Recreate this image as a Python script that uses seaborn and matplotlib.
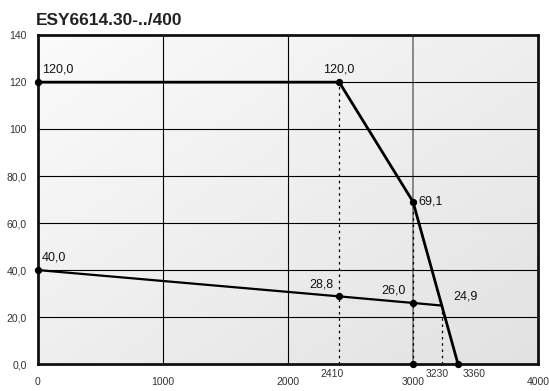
import numpy as np
import pandas as pd
import matplotlib
matplotlib.use("Agg")
import matplotlib.pyplot as plt
import seaborn as sns

# Curve data (speed vs value)
upper_x = [0, 2410, 3000, 3360]
upper_y = [120.0, 120.0, 69.1, 0.0]
lower_x = [0, 2410, 3000, 3230]
lower_y = [40.0, 28.8, 26.0, 24.9]

point_labels = ["120,0", "120,0", "69,1", "40,0", "28,8", "26,0", "24,9"]
label_x = [0, 2410, 3000, 0, 2410, 3000, 3230]
label_y = [120.0, 120.0, 69.1, 40.0, 28.8, 26.0, 24.9]

y_ticks = [0, 20, 40, 60, 80, 100, 120, 140]
y_ticklabels = ["0,0", "20,0", "40,0", "60,0", "80,0", "100", "120", "140"]
x_ticks = [0, 1000, 2000, 3000, 4000]
x_extra = [2410, 3230, 3360]

sns.set_style("white")
plt.rcParams['font.family'] = ['Liberation Sans', 'DejaVu Sans']

fig = plt.figure(figsize=(5.49, 3.91), dpi=100)
ax = fig.add_axes([0.069, 0.069, 0.911, 0.841])
ax.set_xlim(0, 4000)
ax.set_ylim(0, 140)

# light gradient background
grad = np.linspace(0, 1, 256)
gx, gy = np.meshgrid(grad, grad)
ax.imshow(0.5 * gx + 0.5 * (1 - gy), cmap=matplotlib.colors.LinearSegmentedColormap.from_list(
    "bg", ["#fbfbfb", "#e2e2e2"]), extent=[0, 4000, 0, 140], aspect="auto",
    origin="lower", zorder=0)

# grid
for v in [1000, 2000]:
    ax.axvline(v, color="black", lw=0.8, zorder=1)
ax.axvline(3000, color="#777777", lw=1.2, zorder=1)
for h in [20, 40, 60, 80, 100, 120]:
    ax.axhline(h, color="black", lw=0.8, zorder=1)

# dotted drop lines
for xv, yv in [(2410, 120.0), (3000, 69.1), (3230, 24.9)]:
    ax.plot([xv, xv], [0, yv], color="black", lw=0.9, ls=(0, (2, 3)), zorder=2)

df_up = pd.DataFrame({"x": upper_x, "y": upper_y})
df_lo = pd.DataFrame({"x": lower_x, "y": lower_y})
sns.lineplot(data=df_up, x="x", y="y", sort=False, color="black", lw=2, ax=ax, zorder=3)
sns.lineplot(data=df_lo, x="x", y="y", sort=False, color="black", lw=1.6, ax=ax, zorder=3)

pts_x = upper_x + lower_x[1:3] + [3000]
pts_y = upper_y + lower_y[1:3] + [0.0]
ax.scatter(pts_x + [0], pts_y + [40.0], s=18, color="black", zorder=4, clip_on=False)

offsets = [(3, 5), (0, 5), (4, 0), (3, 5), (-4, 4), (-5, 5), (8, 2)]
aligns = [("left", "bottom"), ("center", "bottom"), ("left", "center"),
          ("left", "bottom"), ("right", "bottom"), ("right", "bottom"), ("left", "bottom")]
for t, xv, yv, off, al in zip(point_labels, label_x, label_y, offsets, aligns):
    ax.annotate(t, (xv, yv), xytext=off, textcoords="offset points",
                ha=al[0], va=al[1], fontsize=9, color="#111111")

ax.set_yticks(y_ticks)
ax.set_yticklabels(y_ticklabels, fontsize=7.5, color="#333333")
ax.set_xticks(x_ticks)
ax.set_xticklabels([str(v) for v in x_ticks], fontsize=7.5, color="#333333")
ax.tick_params(axis="x", pad=9, length=0)
ax.tick_params(axis="y", pad=8, length=0)
extra_ha = ["center", "right", "left"]
extra_dx = [-60, 60, 40]
for xv, ha, dx in zip(x_extra, extra_ha, extra_dx):
    ax.text(xv + dx, -2.2, str(xv), ha=ha, va="top", fontsize=7.5, color="#333333")

ax.set_xlabel("")
ax.set_ylabel("")
for sp in ax.spines.values():
    sp.set_linewidth(2)
    sp.set_color("#111111")

fig.text(0.066, 0.967, "ESY6614.30-../400", fontsize=12.5, fontweight="bold",
         ha="left", va="top", color="#222222")

fig.savefig("out.png", dpi=100)
